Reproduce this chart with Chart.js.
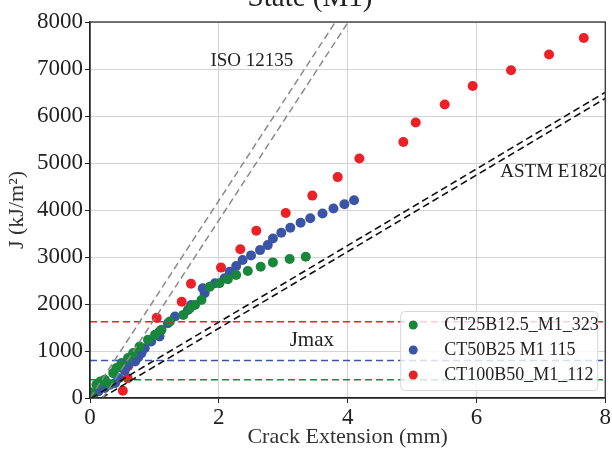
<!DOCTYPE html>
<html>
<head>
<meta charset="utf-8">
<script src="https://cdn.jsdelivr.net/npm/chart.js@4/dist/chart.umd.min.js"></script>
<style>
  html, body { margin: 0; padding: 0; background: #fff; }
  #wrap { width: 612px; height: 454px; }
</style>
</head>
<body>
<div id="wrap"><canvas id="jr"></canvas></div>
<script>
/* ---------- J-R data (crack extension in mm, J in kJ/m2) ---------- */
const greenLabel = "CT25B12.5_M1_323";
const greenDa = [0.00, 0.04, 0.10, 0.16, 0.23, 0.30, 0.36, 0.41, 0.49, 0.59, 0.67, 0.77, 0.90, 1.01, 1.11, 1.24, 1.45, 1.55, 1.63, 1.73, 1.86, 2.01, 2.14, 2.27, 2.45, 2.65, 2.84, 3.10, 3.35];
const greenJ  = [120, 60, 283, 350, 389, 300, 530, 636, 743, 849, 955, 1096, 1238, 1344, 1450, 1627, 1768, 1909, 1980, 2086, 2369, 2440, 2525, 2617, 2702, 2793, 2885, 2956, 3006];

const blueLabel = "CT50B25 M1 115";
const blueDa = [0.05, 0.13, 0.23, 0.31, 0.39, 0.45, 0.54, 0.59, 0.70, 0.75, 0.80, 0.85, 0.95, 1.08, 1.08, 1.21, 1.32, 1.52, 1.57, 1.75, 1.78, 1.94, 2.09, 2.17, 2.27, 2.37, 2.50, 2.64, 2.76, 2.84, 2.97, 3.11, 3.27, 3.42, 3.61, 3.78, 3.95, 4.10];
const blueJ  = [71, 141, 212, 283, 318, 420, 587, 707, 778, 870, 955, 1061, 1202, 1308, 1414, 1591, 1733, 1874, 1980, 2334, 2228, 2440, 2546, 2687, 2808, 2935, 3034, 3147, 3253, 3395, 3515, 3621, 3727, 3826, 3925, 4031, 4123, 4208];

const redLabel = "CT100B50_M1_112";
const redDa = [0.51, 0.585, 0.595, 1.036, 1.424, 1.568, 2.034, 2.334, 2.582, 3.039, 3.452, 3.846, 4.182, 4.865, 5.057, 5.508, 5.942, 6.537, 7.127, 7.666];
const redJ  = [156, 421, 684, 1705, 2047, 2432, 2774, 3166, 3557, 3936, 4306, 4700, 5097, 5448, 5861, 6246, 6637, 6973, 7309, 7658];

/* Jmax limits per specimen */
const jmax = [390, 800, 1625]; // green, blue, red

/* blunting / exclusion lines: J = slope * (da - offset) */
const isoSlope = 2100;
const isoOffsets = [0.0, 0.2];
const astmSlope = 815;
const astmOffsets = [0.02, 0.18];

const xTicks = [0, 2, 4, 6, 8];
const yTicks = [0, 1000, 2000, 3000, 4000, 5000, 6000, 7000, 8000];

const colGreen = "#18873a";
const colBlue  = "#3a55a6";
const colRed   = "#ec2128";
const serif = "'Liberation Serif', 'DejaVu Serif', serif";

const pts = (xs, ys) => xs.map((x, i) => ({ x: x, y: ys[i] }));
const lineThrough = (slope, off, xEnd) => [{ x: off, y: 0 }, { x: xEnd, y: slope * (xEnd - off) }];

function dashed(data, color, width) {
  return {
    type: "line", data: data, borderColor: color, borderWidth: width,
    borderDash: [7, 4], pointRadius: 0, fill: false, showLine: true, order: 1
  };
}
function scatter(label, data, color) {
  return {
    type: "scatter", label: label, data: data, backgroundColor: color,
    borderWidth: 0, pointRadius: 5, order: 2, inLegend: true
  };
}

const datasets = [
  dashed(lineThrough(isoSlope, isoOffsets[0], 4.5), "#8a8a8a", 1.5),
  dashed(lineThrough(isoSlope, isoOffsets[1], 4.5), "#8a8a8a", 1.5),
  dashed(lineThrough(astmSlope, astmOffsets[0], 8), "#111111", 1.6),
  dashed(lineThrough(astmSlope, astmOffsets[1], 8), "#111111", 1.6),
  dashed([{ x: 0, y: jmax[0] }, { x: 8, y: jmax[0] }], colGreen, 1.5),
  dashed([{ x: 0, y: jmax[1] }, { x: 8, y: jmax[1] }], colBlue, 1.5),
  dashed([{ x: 0, y: jmax[2] }, { x: 8, y: jmax[2] }], colRed, 1.5),
  scatter(greenLabel, pts(greenDa, greenJ), colGreen),
  scatter(blueLabel, pts(blueDa, blueJ), colBlue),
  scatter(redLabel, pts(redDa, redJ), colRed),
];

/* text notes placed in data coordinates */
const notes = [
  { text: "ISO 12135", x: 1.87, y: 7160, size: 19 },
  { text: "ASTM E1820", x: 6.37, y: 4815, size: 19 },
  { text: "Jmax", x: 3.10, y: 1234, size: 21 },
];

const framePlugin = {
  id: "frame",
  afterDatasetsDraw(chart) {
    const { ctx, chartArea: a, scales } = chart;
    ctx.save();
    // annotations, clipped to the axes box
    ctx.beginPath();
    ctx.rect(a.left, a.top, a.right - a.left, a.bottom - a.top);
    ctx.clip();
    ctx.fillStyle = "#222";
    ctx.textBaseline = "middle";
    ctx.textAlign = "left";
    notes.forEach(n => {
      ctx.font = n.size + "px " + serif;
      ctx.fillText(n.text, scales.x.getPixelForValue(n.x), scales.y.getPixelForValue(n.y));
    });
    ctx.restore();

    // legend box at lower right
    ctx.save();
    const items = chart.data.datasets.filter(d => d.inLegend);
    const bw = 197, bh = 79;
    const bx = a.right - 8 - bw, by = a.bottom - 8 - bh;
    ctx.fillStyle = "rgba(255,255,255,0.8)";
    ctx.strokeStyle = "#d6d6d6";
    ctx.lineWidth = 1;
    ctx.beginPath();
    ctx.roundRect(bx + 0.5, by + 0.5, bw, bh, 4);
    ctx.fill();
    ctx.stroke();
    ctx.font = "18px " + serif;
    ctx.textBaseline = "middle";
    items.forEach((d, i) => {
      const cy = by + 14 + i * 25;
      ctx.fillStyle = d.backgroundColor;
      ctx.beginPath();
      ctx.arc(bx + 13, cy, 4.5, 0, Math.PI * 2);
      ctx.fill();
      ctx.fillStyle = "#222";
      ctx.fillText(d.label, bx + 44, cy);
    });
    ctx.restore();

    // black frame
    ctx.save();
    ctx.strokeStyle = "#222";
    ctx.lineWidth = 1.2;
    ctx.strokeRect(a.left, a.top, a.right - a.left, a.bottom - a.top);
    ctx.restore();
  },
  afterDraw(chart) {
    // title sits above the canvas top, only its lower part shows
    const { ctx } = chart;
    ctx.save();
    ctx.fillStyle = "#222";
    ctx.font = "29px " + serif;
    ctx.textAlign = "center";
    ctx.textBaseline = "alphabetic";
    ctx.fillText("State (M1)", 310, 6);
    ctx.restore();
  }
};

const tickFont = { family: serif, size: 23 };
const titleFont = { family: serif, size: 22 };

new Chart(document.getElementById("jr"), {
  type: "scatter",
  data: { datasets: datasets },
  plugins: [framePlugin],
  options: {
    responsive: true,
    maintainAspectRatio: false,
    animation: false,
    events: [],
    layout: { padding: { top: 22, right: 6, left: 0, bottom: 0 } },
    plugins: { legend: { display: false }, tooltip: { enabled: false } },
    scales: {
      x: {
        type: "linear", min: 0, max: 8,
        afterBuildTicks: s => { s.ticks = xTicks.map(v => ({ value: v })); },
        afterFit: s => { s.height = 56; },
        ticks: { font: tickFont, color: "#222", padding: 1, maxRotation: 0, callback: v => String(v) },
        grid: { color: "#d4d4d4", lineWidth: 1, tickLength: 5, tickColor: "#222" },
        border: { color: "#222", width: 1.2 },
        title: { display: true, text: "Crack Extension (mm)", font: titleFont, color: "#333", padding: { top: -2 } }
      },
      y: {
        type: "linear", min: 0, max: 8000,
        afterBuildTicks: s => { s.ticks = yTicks.map(v => ({ value: v })); },
        afterFit: s => { s.width = 90; },
        ticks: { font: tickFont, color: "#222", padding: 2, callback: v => String(v) },
        grid: { color: "#d4d4d4", lineWidth: 1, tickLength: 5, tickColor: "#222" },
        border: { color: "#222", width: 1.2 },
        title: { display: true, text: "J (kJ/m²)", font: titleFont, color: "#333", padding: { bottom: 0 } }
      }
    }
  }
});
</script>
</body>
</html>
